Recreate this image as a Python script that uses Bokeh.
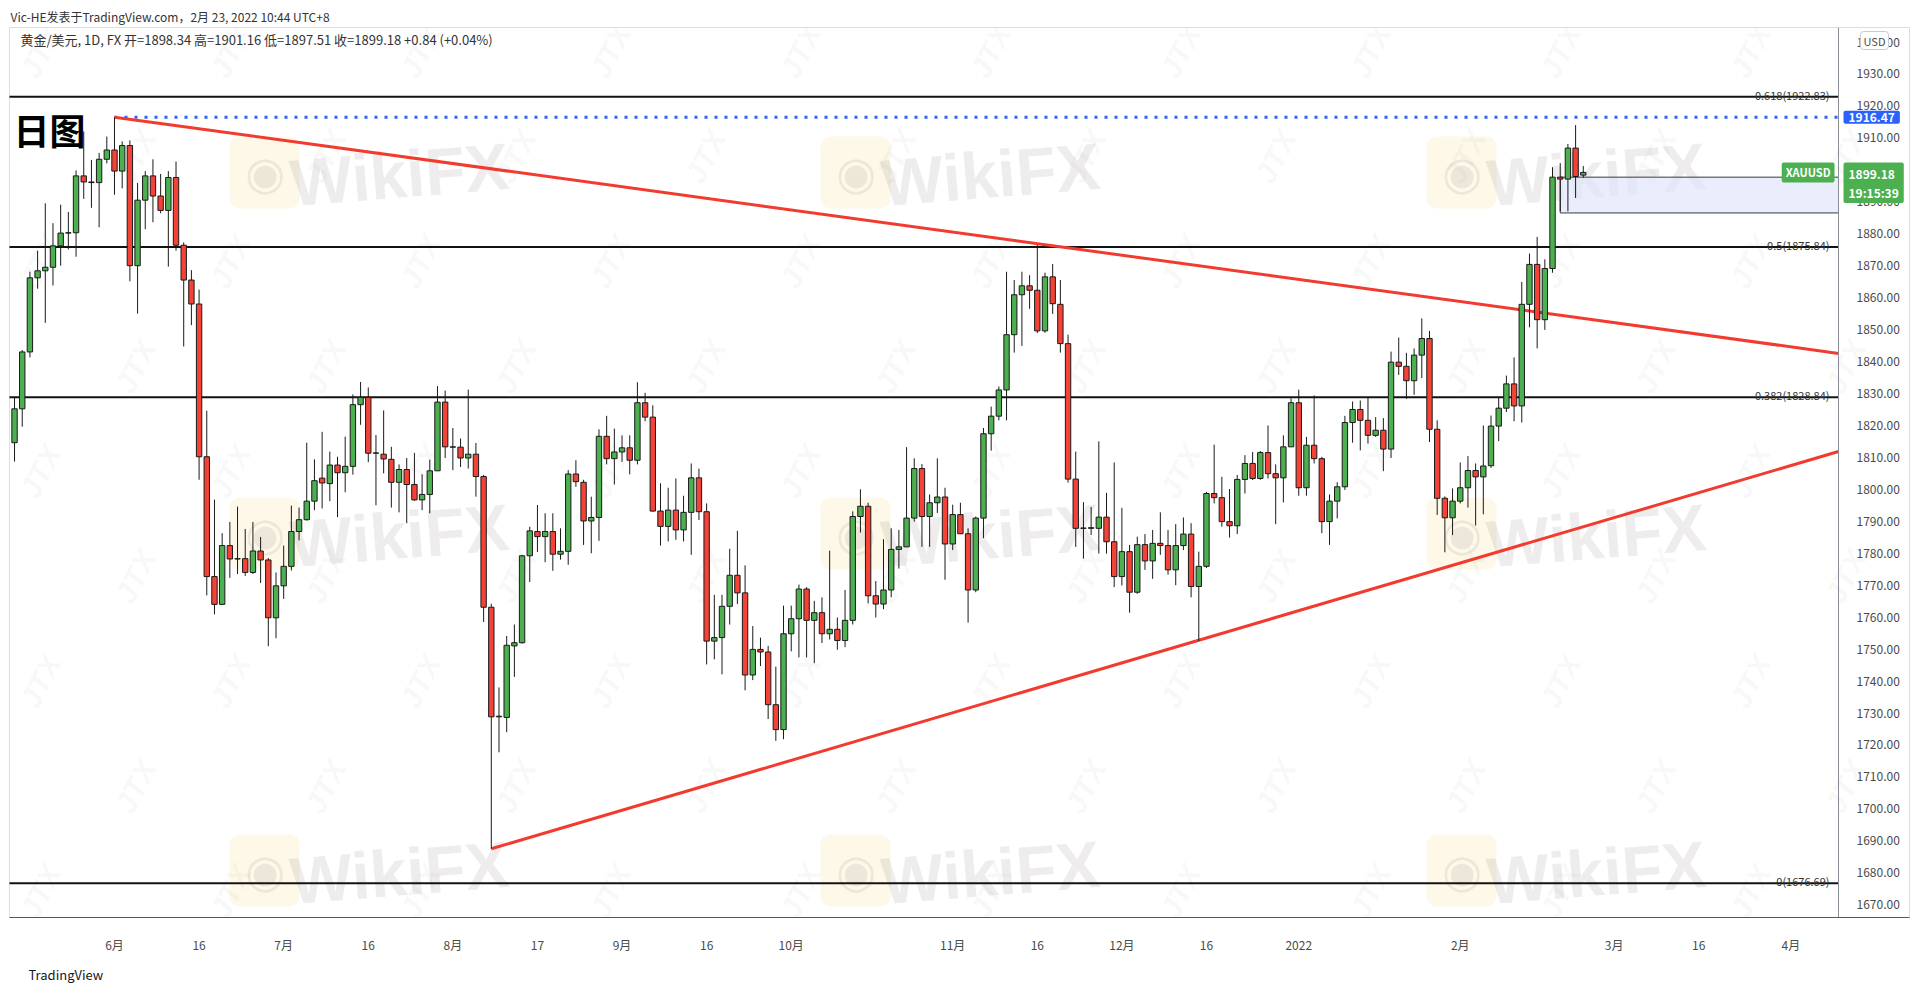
import pandas as pd
from bokeh.plotting import figure
from bokeh.models import (Range1d, FixedTicker, NumeralTickFormatter, Label, LinearAxis,
                          ColumnDataSource, BoxAnnotation, Title)
from bokeh.embed import file_html
from bokeh.resources import INLINE

# ---------------- data ----------------
first_bar = "2021-05-13"
last_bar = "2022-02-23"
axis_end = "2022-04-15"

opens = [1814.6, 1825.2, 1843.0, 1866.2, 1868.4, 1869.5, 1876.2, 1880.2, 1880.3, 1898.1,
         1896.2, 1896.0, 1903.3, 1906.2, 1899.6, 1907.6, 1870.0, 1890.5, 1898.1, 1891.8,
         1887.3, 1897.6, 1876.4, 1865.5, 1858.0, 1810.2, 1772.7, 1764.0, 1782.4, 1778.2,
         1778.3, 1774.0, 1780.7, 1777.9, 1759.8, 1769.8, 1775.9, 1786.8, 1790.5, 1796.3,
         1803.5, 1801.8, 1807.6, 1805.2, 1807.2, 1826.5, 1828.8, 1811.3, 1811.0, 1809.4,
         1802.2, 1806.2, 1801.5, 1796.7, 1798.4, 1805.8, 1827.3, 1813.3, 1813.2, 1809.8,
         1811.0, 1804.0, 1763.1, 1728.8, 1728.6, 1751.0, 1752.0, 1779.2, 1786.8, 1785.2,
         1786.8, 1779.7, 1780.6, 1804.8, 1802.2, 1790.1, 1791.2, 1816.6, 1809.6, 1811.7,
         1813.0, 1809.1, 1827.1, 1822.6, 1793.2, 1788.4, 1793.5, 1787.3, 1792.8, 1803.6,
         1793.0, 1752.5, 1753.6, 1763.4, 1773.1, 1767.6, 1741.9, 1749.9, 1749.1, 1732.6,
         1724.8, 1754.8, 1759.5, 1768.8, 1759.0, 1761.4, 1754.8, 1756.2, 1752.7, 1759.0,
         1791.5, 1794.7, 1766.7, 1764.1, 1768.5, 1781.2, 1782.0, 1791.0, 1806.5, 1791.5,
         1795.8, 1797.6, 1782.9, 1792.1, 1786.1, 1768.5, 1791.0, 1817.4, 1822.9, 1831.1,
         1848.4, 1860.9, 1863.7, 1862.3, 1849.6, 1866.5, 1857.9, 1845.6, 1803.2, 1787.8,
         1787.8, 1787.8, 1791.3, 1783.6, 1772.7, 1780.5, 1767.8, 1782.7, 1777.6, 1783.1,
         1782.4, 1774.8, 1782.4, 1786.0, 1769.6, 1775.9, 1798.7, 1797.4, 1789.9, 1788.6,
         1803.1, 1808.1, 1803.4, 1811.5, 1804.9, 1803.6, 1813.3, 1827.1, 1800.5, 1813.8,
         1809.6, 1789.9, 1796.3, 1800.8, 1820.9, 1825.0, 1821.6, 1816.9, 1818.5, 1812.6,
         1839.8, 1838.5, 1834.0, 1842.0, 1847.2, 1818.8, 1797.2, 1791.1, 1796.3, 1800.5,
         1805.9, 1803.9, 1807.4, 1819.8, 1825.4, 1833.0, 1826.1, 1857.9, 1870.4, 1853.1,
         1869.1, 1897.7, 1897.1, 1906.8, 1898.34]
highs = [1828.8, 1843.6, 1868.1, 1874.7, 1889.5, 1883.3, 1889.1, 1886.8, 1899.8, 1912.0,
         1903.1, 1905.3, 1910.4, 1916.47, 1908.9, 1909.2, 1895.9, 1899.6, 1903.3, 1898.7,
         1899.6, 1902.6, 1877.3, 1868.6, 1862.5, 1824.6, 1796.8, 1786.3, 1789.8, 1794.6,
         1787.6, 1789.8, 1785.1, 1778.5, 1774.0, 1782.4, 1794.9, 1794.3, 1814.6, 1809.4,
         1818.0, 1811.8, 1810.2, 1816.5, 1829.7, 1833.6, 1831.9, 1817.0, 1824.7, 1813.3,
         1807.8, 1809.8, 1811.4, 1804.7, 1809.3, 1832.3, 1830.9, 1819.2, 1815.9, 1831.2,
         1814.5, 1804.5, 1764.2, 1738.0, 1754.1, 1757.7, 1779.5, 1788.3, 1795.1, 1792.5,
         1792.5, 1787.8, 1806.0, 1809.1, 1803.0, 1797.7, 1818.8, 1823.0, 1819.0, 1816.9,
         1816.9, 1833.5, 1830.2, 1826.3, 1801.9, 1800.5, 1803.4, 1798.0, 1808.1, 1806.5,
         1795.6, 1767.0, 1767.0, 1781.4, 1787.0, 1776.2, 1757.2, 1753.6, 1751.0, 1744.5,
         1763.6, 1763.6, 1770.2, 1769.4, 1765.1, 1766.2, 1780.8, 1759.9, 1768.5, 1793.1,
         1800.0, 1795.8, 1771.3, 1784.4, 1787.8, 1787.3, 1813.2, 1809.7, 1807.9, 1798.4,
         1809.7, 1800.5, 1795.2, 1795.8, 1787.8, 1791.5, 1819.2, 1825.9, 1832.2, 1868.1,
         1865.5, 1868.1, 1867.0, 1876.5, 1867.8, 1870.5, 1865.5, 1848.4, 1811.8, 1796.0,
         1794.5, 1815.0, 1798.9, 1808.4, 1794.2, 1782.6, 1785.2, 1786.0, 1787.3, 1792.8,
         1787.3, 1789.1, 1791.2, 1789.4, 1780.5, 1799.2, 1814.0, 1803.9, 1800.1, 1804.5,
         1810.7, 1811.7, 1812.0, 1820.0, 1807.8, 1816.9, 1828.5, 1831.2, 1816.4, 1829.4,
         1810.2, 1798.4, 1802.2, 1823.0, 1827.5, 1827.8, 1828.8, 1822.6, 1822.3, 1843.1,
         1847.5, 1842.7, 1844.1, 1853.5, 1849.6, 1821.6, 1797.8, 1800.3, 1808.4, 1810.4,
         1808.1, 1820.0, 1823.1, 1828.9, 1835.6, 1841.3, 1864.9, 1873.8, 1879.0, 1872.0,
         1900.8, 1902.1, 1908.1, 1914.0, 1901.16]
lows = [1808.7, 1819.6, 1841.3, 1862.8, 1852.1, 1863.8, 1870.0, 1875.1, 1872.8, 1890.9,
        1888.1, 1882.0, 1902.0, 1892.2, 1894.2, 1865.1, 1855.0, 1881.4, 1883.6, 1886.4,
        1869.7, 1874.7, 1844.7, 1851.4, 1803.0, 1766.8, 1760.9, 1763.8, 1772.3, 1773.5,
        1772.9, 1773.5, 1770.7, 1750.9, 1753.4, 1765.7, 1774.6, 1784.0, 1790.2, 1793.5,
        1794.0, 1796.3, 1791.3, 1799.1, 1804.6, 1820.2, 1808.5, 1795.0, 1805.0, 1794.3,
        1792.8, 1789.4, 1796.4, 1793.5, 1792.5, 1805.8, 1809.8, 1806.0, 1807.0, 1806.5,
        1797.7, 1758.5, 1687.5, 1717.7, 1724.0, 1741.3, 1751.7, 1771.0, 1780.4, 1777.2,
        1774.5, 1778.0, 1776.4, 1800.8, 1782.6, 1780.0, 1783.9, 1807.8, 1801.5, 1808.6,
        1804.7, 1807.8, 1821.3, 1793.0, 1782.4, 1783.7, 1784.2, 1783.7, 1779.5, 1790.4,
        1745.2, 1746.8, 1742.1, 1757.7, 1764.1, 1737.1, 1740.3, 1744.7, 1728.1, 1721.3,
        1721.8, 1749.3, 1747.4, 1747.4, 1745.6, 1751.9, 1753.0, 1749.8, 1750.6, 1757.7,
        1786.5, 1764.3, 1759.9, 1762.5, 1766.2, 1775.2, 1782.0, 1789.9, 1782.0, 1782.0,
        1792.6, 1771.7, 1781.0, 1786.0, 1758.3, 1767.8, 1784.7, 1812.1, 1821.6, 1821.6,
        1842.8, 1844.9, 1856.5, 1848.9, 1849.0, 1854.9, 1842.8, 1802.1, 1782.0, 1778.3,
        1785.7, 1779.9, 1779.9, 1769.4, 1769.9, 1761.4, 1767.3, 1774.8, 1772.0, 1779.5,
        1773.3, 1770.0, 1781.0, 1766.2, 1752.5, 1775.4, 1795.6, 1788.3, 1784.9, 1786.0,
        1798.7, 1802.9, 1803.0, 1803.4, 1789.1, 1795.9, 1813.3, 1798.0, 1798.0, 1808.1,
        1786.3, 1782.6, 1790.9, 1799.8, 1814.6, 1812.2, 1814.3, 1816.4, 1805.7, 1809.8,
        1835.8, 1828.3, 1829.6, 1834.8, 1814.8, 1792.0, 1780.3, 1785.7, 1795.6, 1794.3,
        1788.7, 1792.2, 1806.7, 1815.1, 1824.2, 1821.3, 1820.9, 1850.7, 1844.1, 1849.9,
        1867.8, 1887.0, 1887.0, 1891.2, 1897.51]
closes = [1825.2, 1843.0, 1866.2, 1868.4, 1869.5, 1876.2, 1880.2, 1880.3, 1898.1, 1896.2,
          1896.0, 1903.3, 1906.2, 1899.6, 1907.6, 1870.0, 1890.5, 1898.1, 1891.8, 1887.3,
          1897.6, 1876.4, 1865.5, 1858.0, 1810.2, 1772.7, 1764.0, 1782.4, 1778.2, 1778.3,
          1774.0, 1780.7, 1777.9, 1759.8, 1769.8, 1775.9, 1786.8, 1790.5, 1796.3, 1802.7,
          1802.0, 1807.6, 1805.2, 1807.2, 1826.5, 1828.8, 1811.3, 1811.4, 1809.5, 1802.2,
          1806.2, 1801.5, 1796.7, 1798.4, 1805.8, 1827.3, 1813.3, 1813.2, 1809.8, 1811.0,
          1804.0, 1763.1, 1728.8, 1729.0, 1751.2, 1752.0, 1779.2, 1787.0, 1785.2, 1786.8,
          1779.7, 1780.6, 1804.8, 1802.4, 1790.1, 1791.2, 1816.6, 1809.6, 1811.7, 1813.0,
          1809.1, 1827.1, 1822.6, 1793.2, 1788.4, 1793.5, 1787.3, 1792.8, 1803.6, 1793.0,
          1752.5, 1753.6, 1763.4, 1773.1, 1767.6, 1741.9, 1749.9, 1749.1, 1732.6, 1724.8,
          1754.8, 1759.5, 1768.8, 1759.0, 1761.4, 1754.8, 1756.2, 1752.7, 1759.0, 1791.5,
          1794.7, 1766.7, 1764.1, 1768.5, 1781.2, 1782.0, 1791.0, 1806.5, 1791.5, 1795.8,
          1797.6, 1782.9, 1792.1, 1786.1, 1768.5, 1791.0, 1817.4, 1822.9, 1831.1, 1848.4,
          1860.9, 1863.7, 1862.3, 1849.6, 1866.5, 1858.1, 1845.6, 1803.2, 1787.8, 1787.9,
          1788.0, 1791.3, 1783.6, 1772.7, 1780.5, 1767.8, 1782.7, 1777.6, 1783.1, 1782.4,
          1774.8, 1782.4, 1786.0, 1769.6, 1775.9, 1798.7, 1797.4, 1789.9, 1788.6, 1803.1,
          1808.1, 1803.4, 1811.5, 1804.9, 1803.6, 1813.3, 1827.1, 1800.5, 1813.8, 1809.6,
          1789.9, 1796.3, 1800.8, 1820.9, 1825.0, 1821.6, 1816.9, 1818.5, 1812.6, 1839.8,
          1838.5, 1834.0, 1842.0, 1847.2, 1818.8, 1797.2, 1791.1, 1796.3, 1800.5, 1805.9,
          1803.9, 1807.3, 1819.8, 1825.4, 1833.0, 1826.1, 1857.9, 1870.4, 1853.1, 1869.1,
          1897.7, 1897.1, 1906.8, 1897.9, 1899.18]

tick_dates = ["2021-06-01", "2021-06-16", "2021-07-01", "2021-07-16", "2021-08-02",
              "2021-08-17", "2021-09-01", "2021-09-16", "2021-10-01", "2021-11-01",
              "2021-11-16", "2021-12-01", "2021-12-16", "2022-01-03", "2022-02-01",
              "2022-03-01", "2022-03-16", "2022-04-01"]
tick_labels = ["6月", "16", "7月", "16", "8月", "17", "9月", "16", "10月", "11月",
               "16", "12月", "16", "2022", "2月", "3月", "16", "4月"]

price_ticks = list(range(1670, 1950, 10))

fib_levels = [1922.83, 1875.84, 1828.84, 1676.69]
fib_names = ["0.618(1922.83)", "0.5(1875.84)", "0.382(1828.84)", "0(1676.69)"]

top_mark_date = "2021-06-01"
top_mark_price = 1916.47
upper_trend_dates = ["2021-06-01", "2021-11-16"]
upper_trend_prices = [1916.47, 1876.9]
lower_trend_dates = ["2021-08-09", "2021-12-15"]
lower_trend_prices = [1687.5, 1752.8]
box_start_date = "2022-02-18"
box_top = 1897.7
box_bottom = 1886.5
last_price = 1899.18
countdown = "19:15:39"
symbol = "XAUUSD"

header_text = "Vic-HE发表于TradingView.com，2月 23, 2022 10:44 UTC+8"
legend_text = "黄金/美元, 1D, FX  开=1898.34  高=1901.16  低=1897.51  收=1899.18  +0.84 (+0.04%)"
title_text = "日图"
footer_text = "TradingView"

# ---------------- positions ----------------
all_days = pd.bdate_range(first_bar, axis_end)
pos = {d.strftime("%Y-%m-%d"): i for i, d in enumerate(all_days)}
n = len(opens)
xs = list(range(n))

UP = "#4caf50"
DOWN = "#f44336"
FONT = "Noto Sans CJK SC"

W, H = 1915, 990
FRAME_LEFT, FRAME_RIGHT, FRAME_TOP, FRAME_BOTTOM = 9, 1909, 27, 921
AXIS_PX = 1838            # pixel column of the price scale
BAR_PX = 7.69             # pixels per bar
X_START = -0.654
X_END = X_START + (FRAME_RIGHT - FRAME_LEFT) / BAR_PX
AXIS_X = X_START + (AXIS_PX - FRAME_LEFT) / BAR_PX


def sx(px):
    return px - FRAME_LEFT


def sy(py):
    return FRAME_BOTTOM - py


p = figure(width=W, height=H,
           x_range=Range1d(X_START, X_END), y_range=Range1d(1666.0, 1944.54),
           output_backend="svg", toolbar_location=None,
           y_axis_location=None, x_axis_location="below",
           min_border_left=FRAME_LEFT, min_border_right=W - FRAME_RIGHT,
           min_border_top=FRAME_TOP, min_border_bottom=H - FRAME_BOTTOM)
p.background_fill_color = "white"
p.border_fill_color = "white"
p.outline_line_color = "#dcdee3"
p.xgrid.visible = False
p.ygrid.visible = False

# header as title (outside the frame)
p.title.text = header_text
p.title.align = "left"
p.title.offset = 1
p.title.vertical_align = "middle"
p.title.text_font = FONT
p.title.text_font_size = "12px"
p.title.text_font_style = "normal"
p.title.text_color = "#333333"
p.title.standoff = 4

# ---------- watermarks ----------
wm_cols = [389, 980, 1586]
wm_rows = [178, 539, 876]
for wy in wm_rows:
    for wx in wm_cols:
        p.add_layout(BoxAnnotation(left=sx(wx - 160), right=sx(wx - 90),
                                   top=sy(wy - 38), bottom=sy(wy + 34),
                                   left_units="screen", right_units="screen",
                                   top_units="screen", bottom_units="screen",
                                   fill_color="#f6d77a", fill_alpha=0.18, line_color=None,
                                   border_radius=10, level="underlay"))
        p.add_layout(Label(x=sx(wx - 125), y=sy(wy - 2), x_units="screen", y_units="screen",
                           text="◉", text_align="center", text_baseline="middle",
                           text_font_size="46px", text_color="#777777", text_alpha=0.13,
                           level="underlay"))
        p.add_layout(Label(x=sx(wx + 10), y=sy(wy), x_units="screen", y_units="screen",
                           text="WikiFX", text_align="center", text_baseline="middle",
                           text_font="Liberation Sans", text_font_style="bold",
                           text_font_size="66px", text_color="#8a8080", text_alpha=0.15,
                           angle=0.08, level="underlay"))
for r in range(9):
    for c in range(11):
        jx = 40 + c * 190 + (95 if r % 2 else 0)
        jy = 55 + r * 105
        if jx > 1890:
            continue
        p.add_layout(Label(x=sx(jx), y=sy(jy), x_units="screen", y_units="screen",
                           text="JTX", text_align="center", text_baseline="middle",
                           text_font="Liberation Sans", text_font_style="bold italic",
                           text_font_size="30px", text_color="#999999", text_alpha=0.08,
                           angle=1.1, level="underlay"))

# ---------- fib / level lines ----------
p.segment(x0=[X_START - 1] * len(fib_levels), y0=fib_levels,
          x1=[AXIS_X] * len(fib_levels), y1=fib_levels,
          line_color="#131313", line_width=2)
for lvl, name in zip(fib_levels, fib_names):
    p.add_layout(Label(x=sx(1829), y=lvl, x_units="screen", y_units="data", text=name,
                       text_align="right", text_baseline="middle", y_offset=2,
                       text_font=FONT, text_font_size="11px", text_color="#333333"))

# box
p.quad(left=[pos[box_start_date]], right=[AXIS_X], bottom=[box_bottom], top=[box_top],
       fill_color="#dfe5fb", fill_alpha=0.7, line_color="#3a3a3a", line_width=1)

# blue dotted high line
p.segment(x0=[pos[top_mark_date]], y0=[top_mark_price], x1=[AXIS_X], y1=[top_mark_price],
          line_color="#2962ff", line_width=3, line_dash="3 7")


def extend(dates, prices, x_far):
    x0, x1 = pos[dates[0]], pos[dates[1]]
    y0, y1 = prices
    slope = (y1 - y0) / (x1 - x0)
    return [x0, x_far], [y0, y0 + slope * (x_far - x0)]


ux, uy = extend(upper_trend_dates, upper_trend_prices, AXIS_X)
lx, ly = extend(lower_trend_dates, lower_trend_prices, AXIS_X)
p.line(ux, uy, line_color="#f23b2f", line_width=3)
p.line(lx, ly, line_color="#f23b2f", line_width=3)

# ---------- candles ----------
src = ColumnDataSource(dict(
    x=xs, o=opens, h=highs, l=lows, c=closes,
    top=[max(o, c) for o, c in zip(opens, closes)],
    bot=[min(o, c) for o, c in zip(opens, closes)],
    color=[UP if c >= o else DOWN for o, c in zip(opens, closes)],
))
p.segment(x0="x", y0="l", x1="x", y1="h", source=src, line_color="#1a1a1a", line_width=1)
p.vbar(x="x", width=0.7, top="top", bottom="bot", source=src,
       fill_color="color", line_color="#1a1a1a", line_width=1)

# ---------- axes ----------
yax = LinearAxis(fixed_location=AXIS_X,
                 ticker=FixedTicker(ticks=price_ticks),
                 formatter=NumeralTickFormatter(format="0.00"))
yax.major_tick_line_color = None
yax.minor_tick_line_color = None
yax.major_label_standoff = 12
yax.major_label_text_font = FONT
yax.major_label_text_font_size = "12px"
yax.major_label_text_color = "#4a4a4a"
yax.axis_line_color = "#8a8d96"
p.add_layout(yax, "right")

xax = p.xaxis[0]
xax.ticker = FixedTicker(ticks=[pos[d] for d in tick_dates])
xax.major_label_overrides = {pos[d]: t for d, t in zip(tick_dates, tick_labels)}
xax.major_tick_line_color = None
xax.minor_tick_line_color = None
xax.major_label_standoff = 12
xax.major_label_text_font = FONT
xax.major_label_text_font_size = "12px"
xax.major_label_text_color = "#4a4a4a"
xax.axis_line_color = "#555555"

p.add_layout(Title(text=footer_text, align="left", offset=19, standoff=14,
                   text_font=FONT, text_font_size="13px", text_font_style="normal",
                   text_color="#131722"), "below")

# ---------- texts in frame ----------
p.add_layout(Label(x=sx(20), y=sy(43), x_units="screen", y_units="screen", text=legend_text,
                   text_align="left", text_baseline="middle", text_font=FONT,
                   text_font_size="13px", text_color="#333333"))
p.add_layout(Label(x=sx(13), y=sy(132), x_units="screen", y_units="screen", text=title_text,
                   text_align="left", text_baseline="middle", text_font=FONT,
                   text_font_style="bold", text_font_size="36px", text_color="#000000"))
p.add_layout(Label(x=sx(1834), y=last_price, x_units="screen", y_units="data", text=symbol,
                   text_align="right", text_baseline="middle", text_font=FONT,
                   text_font_style="bold", text_font_size="11px", text_color="white",
                   background_fill_color="#4caf50", padding=(4, 2), border_radius=2))

# price-scale markers
p.add_layout(Label(x=sx(1843), y=top_mark_price, x_units="screen", y_units="data",
                   text=f"{top_mark_price:.2f}", text_align="left", text_baseline="middle",
                   text_font=FONT, text_font_style="bold", text_font_size="12px",
                   text_color="white", background_fill_color="#2962ff",
                   padding=(5, 2), border_radius=2))
p.add_layout(Label(x=sx(1843), y=sy(166), x_units="screen", y_units="screen",
                   text=f"{last_price:.2f}\n{countdown}", text_align="left",
                   text_baseline="top", text_font=FONT, text_font_style="bold",
                   text_font_size="12px", text_color="white", text_line_height=1.15,
                   background_fill_color="#4caf50", padding=(5, 2), border_radius=2))
p.add_layout(Label(x=sx(1874), y=sy(44), x_units="screen", y_units="screen", text="USD",
                   text_align="center", text_baseline="middle", text_font=FONT,
                   text_font_size="11px", text_color="#4a4a4a", background_fill_color="white",
                   border_line_color="#c8cad0", padding=(3, 1), border_radius=3))

open("out.html", "w").write(file_html(p, INLINE))
